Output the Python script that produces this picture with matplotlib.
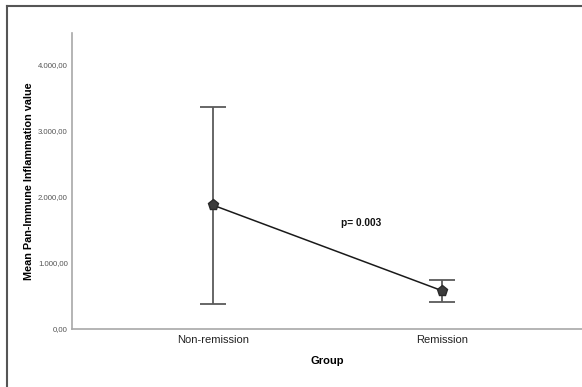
import matplotlib.pyplot as plt
from matplotlib.ticker import FuncFormatter

groups = ["Non-remission", "Remission"]
means = [1870, 578]
upper = [3350, 740]
lower = [377, 412]
p_text = "p= 0.003"

plt.rcParams['font.family'] = ['Liberation Sans', 'DejaVu Sans']

fig = plt.figure(figsize=(5.82, 3.87), dpi=100)
W, H = 582, 387
ax = fig.add_axes([72 / W, 1 - 329 / H, (582 - 72) / W, (329 - 33) / H])

x = range(len(groups))
yerr = [[m - lo for m, lo in zip(means, lower)], [u - m for m, u in zip(means, upper)]]
ax.errorbar(x, means, yerr=yerr, fmt='none', ecolor='#5a5a5a', elinewidth=1.3,
            capsize=9.5, capthick=1.3, zorder=2)
ax.plot(x, means, color='#1a1a1a', lw=1.1, zorder=3)
ax.plot(x, means, linestyle='none', marker='p', markersize=8,
        markerfacecolor='#3c3c3c', markeredgecolor='#2a2a2a', zorder=4)

ax.text(0.56, 1560, p_text, fontsize=7.3, fontweight='bold', color='#111111')

ax.set_xlim(-0.616, 1.611)
ax.set_ylim(0, 4470)
ax.set_xticks(list(x))
ax.set_xticklabels(groups, fontsize=8, color='#222222')
ax.set_yticks([0, 1000, 2000, 3000, 4000])
ax.yaxis.set_major_formatter(FuncFormatter(
    lambda v, p: f"{v:,.2f}".replace(",", "X").replace(".", ",").replace("X", ".")))
ax.tick_params(axis='y', length=0, labelsize=5.6, labelcolor='#555555', pad=3)
ax.tick_params(axis='x', length=0, pad=4)

for s in ['top', 'right']:
    ax.spines[s].set_visible(False)
for s in ['left', 'bottom']:
    ax.spines[s].set_color('#a8a8a8')
    ax.spines[s].set_linewidth(1.2)

ax.set_xlabel("Group", fontsize=8, fontweight='bold', labelpad=8)
ax.set_ylabel("Mean Pan-Immune Inflammation value", fontsize=7.8, fontweight='bold', labelpad=3)

# frame lines at top and left of the figure
fig.add_artist(plt.Line2D([6.5 / W, 6.5 / W], [0, 1 - 5.5 / H], transform=fig.transFigure,
                          color='#555555', lw=1.5))
fig.add_artist(plt.Line2D([6.5 / W, 1], [1 - 5.5 / H, 1 - 5.5 / H], transform=fig.transFigure,
                          color='#555555', lw=1.5))

fig.savefig("out.png", dpi=100)
